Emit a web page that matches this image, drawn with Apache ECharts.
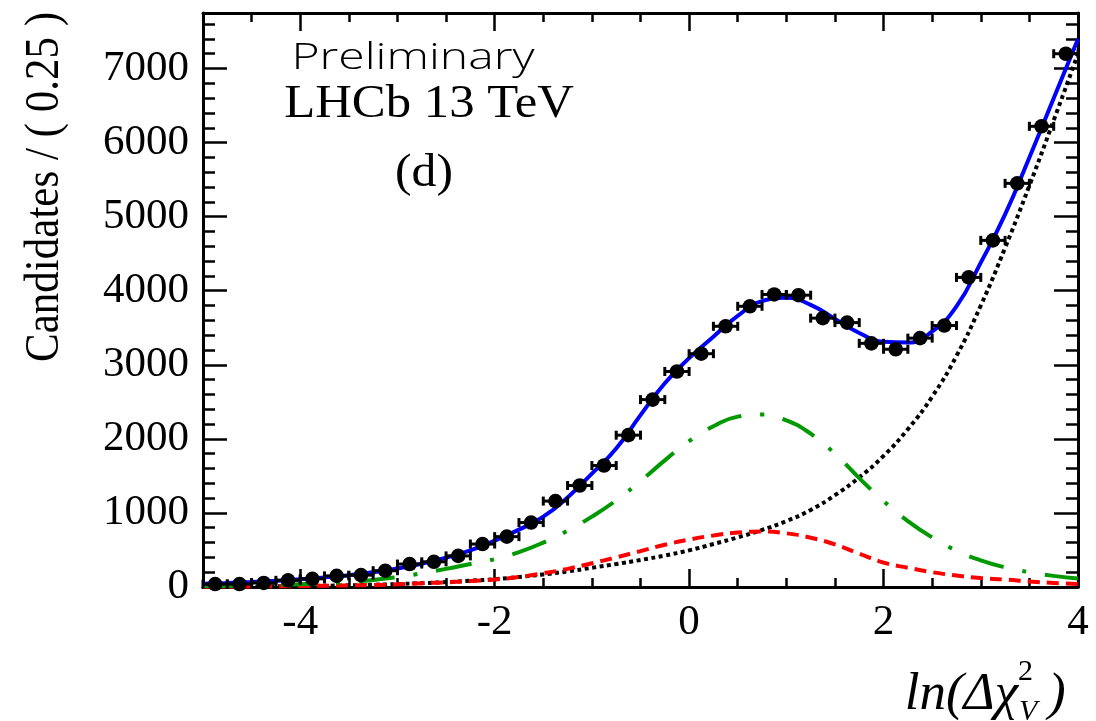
<!DOCTYPE html>
<html>
<head>
<meta charset="utf-8">
<title>ln(Δχ²) fit (d)</title>
<script src="https://cdn.jsdelivr.net/npm/echarts@6/dist/echarts.min.js"></script>
<style>
  html, body { margin: 0; padding: 0; background: #fff; }
  #chart { width: 1096px; height: 721px; }
</style>
</head>
<body>
<div id="chart"></div>
<script>
// data points, bins of 0.25
const binCenters = [-4.875, -4.625, -4.375, -4.125, -3.875, -3.625, -3.375, -3.125, -2.875, -2.625,
  -2.375, -2.125, -1.875, -1.625, -1.375, -1.125, -0.875, -0.625, -0.375, -0.125,
  0.125, 0.375, 0.625, 0.875, 1.125, 1.375, 1.625, 1.875, 2.125, 2.375,
  2.625, 2.875, 3.125, 3.375, 3.625, 3.875]
const candidates = [40, 40, 55, 90, 110, 150, 160, 220, 310, 340,
  420, 580, 680, 870, 1160, 1370, 1640, 2050, 2530, 2910,
  3150, 3520, 3790, 3950, 3940, 3630, 3570, 3290, 3210, 3360,
  3530, 4180, 4680, 5450, 6220, 7200]
const binHalf = 0.125

// fit curves sampled off the plot
const curveX = [-5, -4.75, -4.5, -4.25, -4, -3.75, -3.5, -3.25, -3, -2.75, -2.5, -2.25, -2, -1.75, -1.5, -1.25,
  -1, -0.75, -0.5, -0.25, 0, 0.25, 0.5, 0.75, 1, 1.25, 1.5, 1.75, 2, 2.25, 2.5, 2.75, 3, 3.25, 3.5, 3.75, 4]
const totalFit = [45, 55, 68, 85, 105, 130, 160, 200, 250, 315, 395, 495, 625, 775, 950, 1210,
  1530, 1870, 2320, 2750, 3090, 3380, 3660, 3860, 3905, 3810, 3620, 3430, 3310, 3300, 3450, 3790, 4380, 5030, 5800, 6600, 7400]
const greenComp = [12, 15, 20, 28, 38, 50, 68, 95, 135, 185, 245, 310, 375, 470, 600, 760,
  950, 1170, 1430, 1710, 1970, 2170, 2300, 2330, 2250, 2070, 1800, 1470, 1160, 890, 670, 490, 360, 265, 200, 150, 115]
const redComp = [5, 6, 8, 10, 13, 17, 22, 28, 36, 52, 62, 80, 102, 135, 185, 245,
  320, 400, 485, 570, 640, 695, 735, 750, 725, 665, 575, 450, 330, 260, 200, 155, 120, 100, 75, 55, 40]
const bkgComp = [5, 6, 8, 10, 13, 17, 22, 30, 40, 52, 66, 85, 105, 135, 170, 210,
  260, 310, 365, 425, 495, 580, 670, 770, 890, 1040, 1240, 1480, 1770, 2130, 2570, 3120, 3800, 4580, 5420, 6300, 7200]

const xTicks = [-4, -2, 0, 2, 4]
const yTicks = [0, 1000, 2000, 3000, 4000, 5000, 6000, 7000]

const serif = '"Liberation Serif", "Times New Roman", serif'
const frame = { show: true, onZero: false, lineStyle: { color: '#000', width: 3 } }

function pairs(xs, ys) {
  return xs.map((x, i) => [x, ys[i]])
}

function majorX(position) {
  return {
    type: 'value', min: -5, max: 4, position: position,
    axisLine: frame,
    axisTick: { inside: true, length: 18, customValues: xTicks, lineStyle: { color: '#000', width: 2.5 } },
    axisLabel: {
      show: position === 'bottom', customValues: xTicks, margin: 14,
      fontSize: 43, fontFamily: serif, color: '#000',
      formatter: v => String(v)
    },
    splitLine: { show: false }
  }
}
function minorX(position) {
  return {
    type: 'value', min: -5, max: 4, interval: 0.5, position: position,
    axisLine: { show: false, onZero: false },
    axisTick: { inside: true, length: 9, lineStyle: { color: '#000', width: 2.5 } },
    axisLabel: { show: false },
    splitLine: { show: false }
  }
}
function majorY(position) {
  return {
    type: 'value', min: 0, max: 7750, position: position,
    axisLine: frame,
    axisTick: { inside: true, length: 24, customValues: yTicks, lineStyle: { color: '#000', width: 2.5 } },
    axisLabel: {
      show: position === 'left', customValues: yTicks, margin: 14,
      fontSize: 43, fontFamily: serif, color: '#000',
      formatter: v => String(v)
    },
    splitLine: { show: false }
  }
}
function minorY(position) {
  return {
    type: 'value', min: 0, max: 7750, interval: 200, position: position,
    axisLine: { show: false, onZero: false },
    axisTick: { inside: true, length: 12, lineStyle: { color: '#000', width: 2.5 } },
    axisLabel: { show: false },
    splitLine: { show: false }
  }
}

function curve(name, ys, color, type, z) {
  return {
    name: name, type: 'line', data: pairs(curveX, ys),
    xAxisIndex: 0, yAxisIndex: 0,
    smooth: 0.5, showSymbol: false, symbol: 'none',
    lineStyle: { color: color, width: 4, type: type, cap: 'butt' },
    z: z, silent: true
  }
}

const chart = echarts.init(document.getElementById('chart'))
const option = {
  animation: false,
  backgroundColor: '#fff',
  grid: { left: 203, right: 18, top: 13, bottom: 134 },
  xAxis: [majorX('bottom'), minorX('bottom'), majorX('top'), minorX('top')],
  yAxis: [majorY('left'), minorY('left'), majorY('right'), minorY('right')],
  series: [
    curve('bkg', bkgComp, '#000', [4, 3.5], 3),
    curve('red', redComp, '#ff0000', [12, 7], 3),
    curve('green', greenComp, '#009900', [36, 19, 4, 19], 3),
    curve('total', totalFit, '#0000ff', 'solid', 4),
    {
      name: 'data', type: 'custom', xAxisIndex: 0, yAxisIndex: 0, z: 5,
      data: binCenters.map((x, i) => [x, candidates[i], Math.sqrt(candidates[i])]),
      renderItem: function (params, api) {
        const x = api.value(0)
        const y = api.value(1)
        const err = api.value(2)
        const l = api.coord([x - binHalf, y])
        const r = api.coord([x + binHalf, y])
        const hi = api.coord([x, y + err])
        const lo = api.coord([x, y - err])
        const c = api.coord([x, y])
        const st = { stroke: '#000', lineWidth: 3 }
        return {
          type: 'group',
          children: [
            { type: 'line', shape: { x1: l[0], y1: l[1], x2: r[0], y2: r[1] }, style: st },
            { type: 'line', shape: { x1: l[0], y1: l[1] - 4.5, x2: l[0], y2: l[1] + 4.5 }, style: st },
            { type: 'line', shape: { x1: r[0], y1: r[1] - 4.5, x2: r[0], y2: r[1] + 4.5 }, style: st },
            { type: 'line', shape: { x1: hi[0], y1: hi[1], x2: lo[0], y2: lo[1] }, style: st },
            { type: 'circle', shape: { cx: c[0], cy: c[1], r: 7.3 }, style: { fill: '#000' } }
          ]
        }
      }
    }
  ],
  graphic: [
    {
      type: 'text', x: 45, y: 12, rotation: Math.PI / 2, scaleY: 1.15,
      style: { text: 'Candidates / ( 0.25 )', fontSize: 43, fontFamily: serif, fill: '#000', align: 'right', verticalAlign: 'middle' }
    },
    {
      type: 'text', x: 413, y: 58, scaleX: 1.3,
      style: { text: 'Preliminary', fontSize: 37, fontFamily: '"Open Sans", "Noto Sans", sans-serif', fontWeight: 300, fill: '#000', align: 'center', verticalAlign: 'middle' }
    },
    {
      type: 'text', x: 429, y: 105, scaleX: 1.08,
      style: { text: 'LHCb 13 TeV', fontSize: 47, fontFamily: serif, fill: '#000', align: 'center', verticalAlign: 'middle' }
    },
    {
      type: 'text', x: 424, y: 174, scaleX: 1.08,
      style: { text: '(d)', fontSize: 46, fontFamily: serif, fill: '#000', align: 'center', verticalAlign: 'middle' }
    },
    // x axis title ln(Δχ²_V)
    {
      type: 'text', x: 1018, y: 695,
      style: { text: 'ln(Δχ', fontSize: 53, fontStyle: 'italic', fontFamily: serif, fill: '#000', align: 'right', verticalAlign: 'middle' }
    },
    {
      type: 'text', x: 1018, y: 672,
      style: { text: '2', fontSize: 30, fontFamily: serif, fill: '#000', align: 'left', verticalAlign: 'middle' }
    },
    {
      type: 'text', x: 1019, y: 712,
      style: { text: 'V', fontSize: 30, fontStyle: 'italic', fontFamily: serif, fill: '#000', align: 'left', verticalAlign: 'middle' }
    },
    {
      type: 'text', x: 1048, y: 695,
      style: { text: ')', fontSize: 53, fontStyle: 'italic', fontFamily: serif, fill: '#000', align: 'left', verticalAlign: 'middle' }
    }
  ]
}
chart.setOption(option)
</script>
</body>
</html>
